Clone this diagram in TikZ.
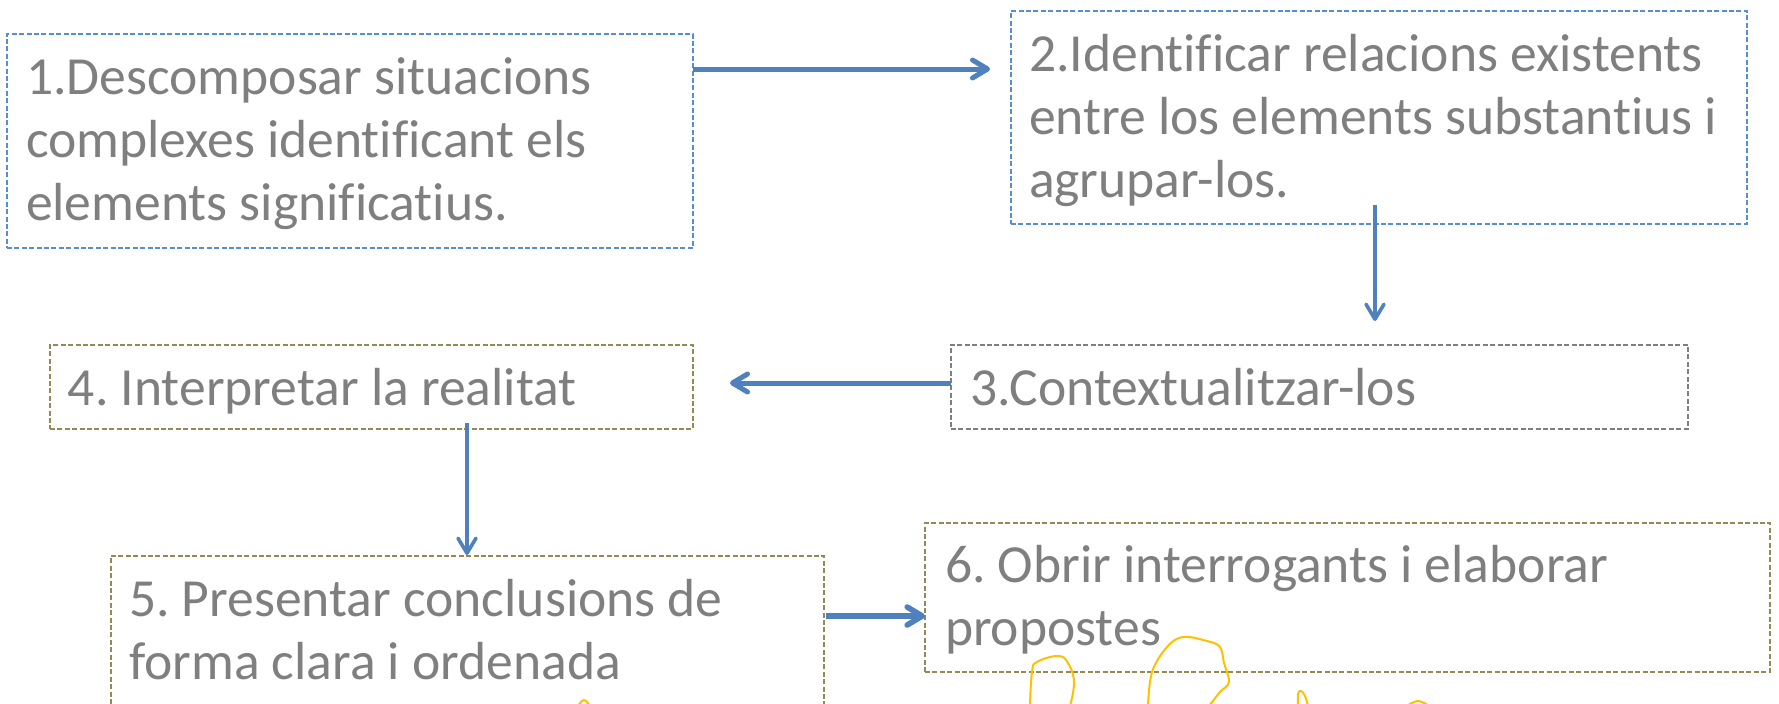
\documentclass[tikz,border=0pt]{standalone}
\usepackage{fontspec}
\setmainfont{Carlito}[Ligatures={NoCommon}]
\usetikzlibrary{arrows.meta,calc}
\definecolor{arrowblue}{HTML}{4F81BD}
\definecolor{boxblue}{HTML}{558ED5}
\definecolor{boxgray}{HTML}{7F7F7F}
\definecolor{boxtan}{HTML}{948A54}
\definecolor{txtgray}{HTML}{7F7F7F}
\definecolor{inkyellow}{HTML}{FFC000}
\frenchspacing
\newcommand{\steplines}[1]{\parbox[t]{500pt}{\raggedright #1}}
\begin{document}
\begin{tikzpicture}[x=0.5pt,y=-0.5pt,
  stepbox/.style={draw=#1, line width=0.75pt, dash pattern=on 2.5pt off 1.2pt,
    rectangle, inner sep=0pt, outer sep=0pt, anchor=north west},
  steptext/.style={anchor=base west, inner sep=0pt, outer sep=0pt, text=txtgray,
    font=\fontsize{26.8pt}{31.5pt}\selectfont},
  flow/.style={draw=arrowblue, line width=#1,
    -{Straight Barb[length=7.5pt,width=9pt,round]}},
  inkline/.style={draw=inkyellow, line width=1pt, line cap=round, line join=round}
]
\path[fill=white, use as bounding box] (0,0) rectangle (1779,703);
\clip (0,0) rectangle (1779,703);

% boxes
\node[stepbox=boxblue, minimum width=343pt, minimum height=107pt] (b1) at (7,34) {};
\node[stepbox=boxblue, minimum width=368pt, minimum height=106.5pt] (b2) at (1011,11) {};
\node[stepbox=boxgray, minimum width=368.5pt, minimum height=42pt] (b3) at (951,345) {};
\node[stepbox=boxtan, minimum width=321.5pt, minimum height=42pt] (b4) at (50,345) {};
\node[stepbox=boxtan, minimum width=356.5pt, minimum height=122pt] (b5) at (111,556) {};
\node[stepbox=boxtan, minimum width=422.5pt, minimum height=74.5pt] (b6) at (925,523) {};

% texts
\node[steptext] (t1) at (26,94) {\steplines{1.Descomposar situacions\\complexes identificant els\\elements significatius.}};
\node[steptext] (t2) at (1029,71) {\steplines{2.Identificar relacions existents\\entre los elements substantius i\\agrupar-los.}};
\node[steptext] (t3) at (970,405) {\steplines{3.Contextualitzar-los}};
\node[steptext] (t4) at (68,405) {\steplines{4. Interpretar la realitat}};
\node[steptext] (t5) at (129,616) {\steplines{5. Presentar conclusions de\\forma clara i ordenada}};
\node[steptext] (t6) at (945,582) {\steplines{6. Obrir interrogants i elaborar\\propostes}};

% connectors
\coordinate (a12) at ($(b1.north east)+(0,35)$);
\draw[flow=2.5pt, shorten >=10.5pt] (a12) -- (a12 -| b2.west);
\coordinate (a23) at ($(b2.south west)+(364,-19)$);
\draw[flow=1.8pt, shorten >=12pt] (a23) -- (a23 |- b3.north);
\coordinate (a34) at ($(b3.west)+(0,-4)$);
\draw[flow=2.5pt, shorten >=18.5pt] (a34) -- (a34 -| b4.east);
\coordinate (a45) at ($(b4.south west)+(417,-6)$);
\draw[flow=1.8pt, shorten >=0.5pt] (a45) -- (a45 |- b5.north);
\coordinate (a56) at ($(b5.north east)+(2,60)$);
\draw[flow=2.8pt] (a56) -- (a56 -| b6.west);

% yellow ink scribbles
\draw[inkline] plot[smooth, tension=0.7] coordinates {(1030,706) (1032,672) (1037,662) (1058,656) (1068,663) (1074,682) (1070,706)};
\draw[inkline] plot[smooth, tension=0.6] coordinates {(1148,706) (1152,672) (1167,647) (1183,637) (1207,641) (1220,647) (1224,663) (1229,682) (1220,692) (1209,706)};
\draw[inkline] plot[smooth, tension=0.7] coordinates {(1298,706) (1298,694) (1301,691) (1305,696) (1308,706)};
\draw[inkline] plot[smooth, tension=0.7] coordinates {(1407,706) (1418,701) (1429,706)};
\draw[inkline] plot[smooth, tension=0.7] coordinates {(578,706) (584,700) (590,706)};
\end{tikzpicture}
\end{document}
